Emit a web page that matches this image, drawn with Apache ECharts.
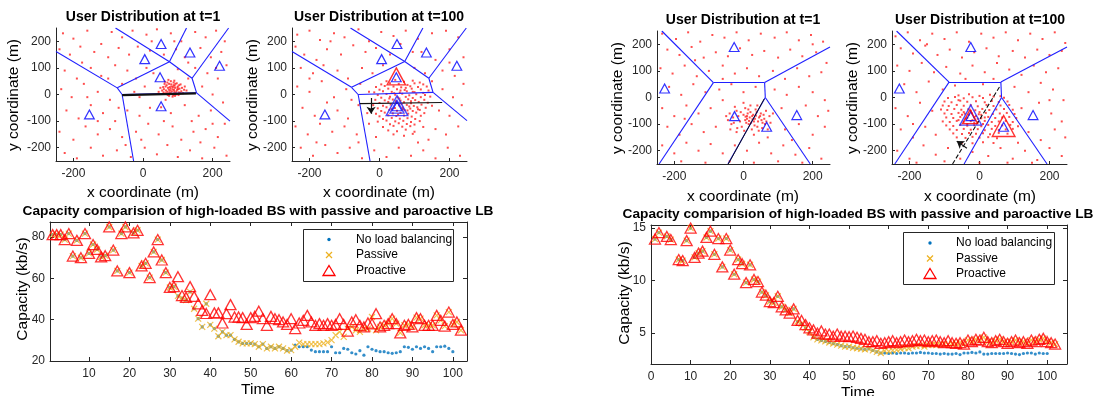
<!DOCTYPE html>
<html><head><meta charset="utf-8">
<script src="https://cdn.jsdelivr.net/npm/echarts@6/dist/echarts.min.js"></script>
<style>html,body{margin:0;padding:0;background:#fff}#c{width:1095px;height:396px}</style>
</head><body><div id="c"></div>
<script>
// ---------------- DATA ----------------
// Capacity charts (time steps 1..102)
const proactiveLeft = [81.2,81.2,81.2,78.8,81.7,70.8,78.4,70.0,81.7,72.1,
76.4,74.0,70.4,71.0,84.9,73.7,63.6,81.7,84.9,62.8,
82.0,83.3,66.0,67.3,60.4,72.8,78.8,68.9,62.8,55.6,
56.0,60.8,51.7,50.8,56.0,51.3,47.7,44.5,43.0,52.1,
43.3,43.3,38.4,42.9,47.3,41.3,41.3,41.0,37.7,41.0,
41.6,44.1,40.5,37.3,41.6,40.5,40.0,38.9,37.7,40.5,
35.7,38.4,39.7,42.1,38.9,37.3,38.1,37.3,38.1,37.3,
37.7,40.5,37.7,34.5,38.9,40.0,37.3,36.5,38.4,38.0,
42.9,36.5,37.3,38.1,40.5,38.1,33.6,37.3,37.7,36.5,
41.0,40.5,37.3,37.3,37.3,42.1,39.7,36.9,43.7,37.7,
38.9,34.9];
const passiveLeft = [81.2,81.2,81.2,78.8,81.7,70.8,78.4,70.0,81.7,72.1,
76.4,74.0,70.4,71.0,84.9,73.7,63.6,81.7,84.9,62.8,
82.0,83.3,66.0,67.3,60.4,72.8,78.8,68.9,62.8,55.6,
56.0,51.5,50.5,49.5,53.5,45.3,40.5,36.5,47.7,37.5,
35.7,32.0,34.1,32.5,32.5,30.5,29.3,28.5,28.5,28.5,
28.2,26.9,28.2,26.1,26.9,26.1,26.9,26.1,25.0,25.3,
26.9,28.9,28.2,28.2,28.2,28.2,28.2,28.5,29.0,30.1,
32.5,34.1,31.7,35.7,36.5,34.9,34.1,35.7,35.7,41.3,
34.9,36.5,37.3,38.1,40.5,38.1,33.6,37.3,37.7,36.5,
41.0,40.5,37.3,37.3,37.3,42.1,39.7,36.9,43.7,37.7,
38.9,34.9];
const noLbLeft = [81.2,81.2,81.2,78.8,81.7,70.8,78.4,70.0,81.7,72.1,
76.4,74.0,70.4,71.0,84.9,73.7,63.6,81.7,84.9,62.8,
82.0,83.3,66.0,67.3,60.4,72.8,78.8,68.9,62.8,55.6,
56.0,51.5,50.5,49.5,53.5,45.3,40.5,36.5,47.7,37.5,
35.7,32.0,34.1,32.5,32.5,30.5,29.3,28.5,28.5,28.5,
28.2,26.9,28.2,26.1,26.9,26.1,26.9,26.1,25.0,25.3,
27.7,26.9,26.9,26.9,25.3,24.5,24.5,24.5,24.5,26.9,
24.0,24.0,26.1,25.7,24.0,23.4,25.0,22.8,26.9,25.7,
25.0,24.5,24.5,24.0,23.7,24.0,24.5,26.9,26.6,25.7,
26.9,26.1,26.9,26.1,24.5,26.9,26.9,27.2,26.1,24.5,
null,null];

const proactiveRight = [13.95,14.57,15.3,14.2,13.9,15.4,12.0,11.9,13.8,15.0,
12.2,12.6,12.8,14.1,14.7,12.5,14.0,11.3,14.0,12.9,
10.6,12.0,11.6,9.8,11.5,10.1,9.9,8.9,8.6,8.0,
7.9,8.5,7.5,7.2,6.9,7.3,6.2,6.2,5.8,5.5,
5.3,5.0,5.2,4.9,4.9,4.7,4.9,4.7,4.7,4.65,
4.71,4.59,4.49,4.40,4.17,4.17,4.27,4.02,4.08,4.17,
4.27,4.08,4.17,4.33,4.17,4.27,4.40,4.27,4.33,4.17,
4.27,4.33,4.17,4.08,4.27,4.08,4.02,4.08,3.95,4.33,
4.17,4.40,4.33,4.59,4.17,4.08,4.27,4.40,4.17,4.02,
4.17,4.33,4.08,4.17,4.02,4.33,4.17,4.40,4.49,4.17,
4.08,3.95];
const passiveRight = [13.95,14.57,15.3,14.2,13.9,15.4,12.0,11.9,13.8,15.0,
12.2,12.6,12.8,14.1,14.7,12.5,14.0,11.3,14.0,12.9,
10.6,12.0,11.6,9.8,11.5,10.1,9.9,8.9,8.6,8.0,
7.9,8.5,7.5,7.2,6.9,7.3,6.1,5.9,5.5,5.1,
4.6,4.4,4.3,4.2,4.1,4.0,3.9,3.8,3.7,3.7,
3.6,3.55,3.5,3.45,3.5,3.35,3.2,3.1,3.3,3.25,
3.35,3.4,3.5,3.6,3.55,3.7,3.75,3.8,3.7,3.85,
3.9,3.85,3.9,3.95,3.9,4.0,4.0,4.08,3.95,4.33,
4.17,4.40,4.33,4.59,4.17,4.08,4.27,4.40,4.17,4.02,
4.17,4.33,4.08,4.17,4.02,4.33,4.17,4.40,4.49,4.17,
4.08,3.95];
const noLbRight = [13.95,14.57,15.3,14.2,13.9,15.4,12.0,11.9,13.8,15.0,
12.2,12.6,12.8,14.1,14.7,12.5,14.0,11.3,14.0,12.9,
10.6,12.0,11.6,9.8,11.5,10.1,9.9,8.9,8.6,8.0,
7.9,8.5,7.5,7.2,6.9,7.3,6.1,5.9,5.5,5.1,
4.6,4.4,4.3,4.2,4.1,4.0,3.9,3.8,3.7,3.7,
3.6,3.55,3.5,3.45,3.5,3.35,3.2,3.1,3.1,3.05,
3.1,3.05,3.1,3.1,3.05,3.1,3.1,3.15,3.1,3.1,
3.05,3.05,3.0,3.05,3.0,3.0,3.05,2.95,3.1,3.1,
3.15,3.1,3.2,3.0,3.0,3.05,3.05,3.05,3.05,3.1,
3.05,3.0,2.95,3.05,3.1,3.1,3.0,3.1,3.05,3.05,
null,null];

const capTicksLeftX = [10,20,30,40,50,60,70,80,90,100];
const capTicksLeftY = [20,40,60,80];
const capTicksRightX = [0,10,20,30,40,50,60,70,80,90,100];
const capTicksRightY = [5,10,15];
const mapTicksX = [-200,0,200];
const mapTicksY = [-200,-100,0,100,200];
const legendNames = ['No load balancing','Passive','Proactive'];

// Maps: users (m), base stations (m), Voronoi edges [x1,y1,x2,y2]
const usersA = [[-230,230],[-200,210],[-160,240],[-120,190],[-90,235],[-60,215],[-30,240],[10,225],[40,245],[80,230],[110,200],[150,235],[180,215],[210,240],[235,200],
[-240,170],[-210,150],[-175,120],[-140,160],[-100,140],[-70,175],[-40,150],[-15,180],[20,165],[60,150],[95,170],[130,120],[165,175],[195,140],[225,160],
[-225,90],[-190,60],[-150,100],[-120,70],[-80,110],[-45,90],[-20,60],[10,100],[30,80],[100,95],[150,100],[185,80],[215,60],[240,110],
[-235,20],[-205,-10],[-170,40],[-130,10],[-95,-20],[-60,40],[-25,10],[5,30],[170,30],[200,0],[230,-30],
[-220,-60],[-185,-90],[-150,-40],[-115,-70],[-80,-100],[-45,-60],[-10,-80],[20,-50],[80,-70],[120,-40],[160,-80],[195,-60],[235,-110],
[-240,-140],[-200,-170],[-165,-120],[-130,-150],[-95,-130],[-60,-160],[-20,-140],[15,-110],[45,-150],[85,-120],[110,-170],[145,-140],[180,-130],[215,-160],
[-225,-220],[-190,-240],[-150,-200],[-115,-230],[-75,-210],[-35,-235],[5,-200],[40,-225],[70,-190],[100,-235],[135,-210],[170,-240],[205,-200],[240,-230],
[-180,180],[-50,-190],[60,-100],[130,60],[-130,-100],[90,200],[-10,-10],[140,-100],[-70,-50],[200,-110],[-160,-10],[25,200],[120,140],[-100,60],[65,-20],[165,-180],[-5,-170],[210,100],
[60,20],[65,30],[70,10],[72,25],[75,40],[78,15],[80,5],[82,30],[85,20],[88,35],[90,10],[92,25],[95,0],[98,18],[100,30],[103,8],[105,22],[108,38],[110,12],[70,45],[75,-5],[80,50],[85,-8],[88,45],[65,5],[62,40],[58,28],[55,15],[68,35],[77,28],[83,12],[86,28],[93,40],[96,12],[101,20],[74,18],[79,22],[81,38],[84,2],[89,17],[91,33],[94,5],[99,26],[104,35],[112,25],[115,5],[118,18],[120,30],[66,15],[71,-2],[76,8],[87,-3],[92,-5],[97,42],[102,-2],[107,5],[59,8],[63,48],[73,55],[90,52],[50,25],[45,10],[125,15],[52,-48]];
const usersB = [[-235,225],[-200,240],[-170,205],[-130,230],[-100,215],[-60,245],[-30,200],[5,235],[40,220],[75,240],[110,210],[150,230],[190,240],[225,215],
[-240,180],[-215,150],[-180,130],[-150,170],[-110,150],[-75,185],[-40,160],[-10,175],[30,150],[95,160],[160,130],[200,170],[240,140],
[-225,100],[-190,80],[-160,110],[-120,90],[-90,60],[-50,100],[-20,80],[10,110],[100,100],[130,80],[180,90],[215,70],
[-235,30],[-200,10],[-165,50],[-130,-10],[-95,20],[-55,40],[-30,10],[180,20],[210,-10],[240,40],
[-220,-50],[-185,-80],[-150,-30],[-120,-60],[-90,-90],[-60,-40],[-35,-70],[170,-60],[200,-80],[235,-40],
[-240,-120],[-205,-150],[-170,-110],[-135,-140],[-100,-120],[-65,-150],[-30,-110],[160,-130],[190,-150],[225,-120],
[-225,-200],[-190,-230],[-155,-190],[-120,-220],[-85,-200],[-50,-240],[-15,-210],[20,-235],[55,-200],[90,-230],[125,-210],[160,-240],[195,-200],[230,-230],
[-180,-180],[-60,-180],[140,-170],[-140,200],[60,190],[200,120],[-80,-20],[150,50],[-10,-160],[110,-180],[-200,60],[120,160],
[20,50],[45,55],[70,48],[95,52],[115,45],[5,38],[30,42],[55,40],[80,36],[100,42],[125,38],
[-10,28],[15,32],[40,30],[62,27],[88,31],[110,28],[135,30],[0,18],[25,22],[50,20],[72,17],[92,22],[118,19],[140,15],
[-15,8],[10,12],[35,10],[58,7],[78,12],[100,9],[125,6],[-5,-2],[20,2],[45,-1],[65,3],[85,-3],[105,1],[130,-2],
[5,-12],[30,-8],[52,-11],[75,-9],[95,-13],[118,-10],[145,-8],[-12,-20],[15,-22],[38,-19],[60,-23],[82,-18],[102,-21],[128,-20],
[0,-32],[25,-28],[48,-31],[70,-29],[90,-33],[112,-28],[138,-31],[-18,-40],[10,-42],[32,-38],[56,-41],[78,-39],[98,-43],[120,-38],[150,-42],
[-5,-52],[20,-48],[44,-51],[66,-49],[88,-53],[108,-48],[132,-50],[5,-62],[28,-58],[50,-61],[72,-59],[95,-62],[115,-58],
[-10,-72],[15,-68],[38,-71],[60,-69],[82,-72],[105,-68],[128,-70],[0,-82],[25,-78],[48,-81],[70,-79],[92,-83],[118,-80],
[10,-92],[35,-88],[58,-91],[80,-89],[102,-92],[-5,-102],[20,-98],[45,-101],[68,-99],[90,-103],[115,-100],
[30,-112],[55,-108],[78,-111],[100,-113],[10,-122],[40,-118],[65,-121],[88,-119],[125,-122],
[25,-135],[50,-138],[75,-132],[100,-140],[40,-150],[70,-155],[95,-148],
[42,5],[57,-15],[63,-35],[47,-25],[85,-45],[35,-55],[60,15],[75,25],[90,-25],[67,-55],[53,-75],[80,-60],[28,-15],[110,-55],[95,10]];
const usersC = [[-235,240],[-195,220],[-160,245],[-125,210],[-90,235],[-55,225],[-20,245],[15,215],[50,240],[90,225],[125,245],[160,215],[195,235],[230,210],
[-220,180],[-185,160],[-150,190],[-115,150],[-80,170],[-45,155],[-10,185],[25,160],[60,175],[100,150],[135,180],[170,155],[210,170],[240,130],
[-240,110],[-205,90],[-170,120],[-135,80],[-100,100],[-60,120],[-25,90],[10,110],[45,80],[85,100],[120,70],[155,110],[190,80],[225,95],
[-215,40],[-180,10],[-145,50],[-110,20],[-70,30],[-35,50],[0,20],[35,40],[90,30],[125,10],[160,40],[200,20],[235,-10],
[-235,-40],[-200,-70],[-165,-30],[-130,-60],[-95,-40],[-60,-10],[110,-40],[180,-30],[215,-70],[245,-50],
[-220,-110],[-185,-140],[-150,-100],[-115,-130],[-80,-110],[120,-120],[160,-100],[200,-140],[235,-110],
[-235,-180],[-200,-210],[-165,-170],[-130,-200],[-95,-175],[-60,-210],[-25,-180],[10,-200],[45,-170],[80,-210],[115,-180],[150,-215],[190,-190],[225,-230],
[-180,-240],[-110,-245],[-40,-240],[30,-245],[100,-240],[170,-245],[-140,140],[140,-160],[200,200],[-60,70],[70,-150],[-170,-80],
[-40,-60],[-30,-75],[-20,-50],[-10,-90],[0,-65],[5,-40],[10,-80],[15,-100],[20,-55],[25,-70],[30,-90],[35,-45],[40,-110],[45,-75],[50,-60],[55,-95],[60,-80],[65,-50],[70,-120],[75,-70],
[-35,-100],[-25,-35],[-15,-70],[-5,-110],[5,-85],[12,-60],[18,-75],[22,-95],[28,-65],[33,-80],[38,-55],[42,-90],[48,-70],[52,-85],[58,-65],[62,-100],
[-45,-85],[-38,-120],[-28,-95],[-18,-115],[-8,-55],[2,-125],[8,-95],[14,-45],[24,-120],[32,-105],[44,-125],[54,-115],[66,-90],[78,-95],[85,-60],
[-50,-70],[20,-30],[0,-20],[40,-30],[-20,-130],[30,-140],[10,-70],[26,-82],[36,-68],[16,-88],[6,-72]];
const usersD = [[-240,230],[-205,245],[-170,215],[-135,240],[-100,220],[-65,245],[-30,210],[5,240],[40,225],[75,245],[110,215],[145,240],[180,220],[215,245],[245,205],
[-225,185],[-190,165],[-155,195],[-120,160],[-85,180],[-50,150],[-15,170],[20,185],[55,155],[95,175],[130,150],[165,180],[200,160],[235,175],
[-235,120],[-200,100],[-165,130],[-130,95],[-95,115],[-55,90],[-20,120],[15,95],[50,130],[85,105],[120,85],[155,120],[190,95],[225,110],
[-215,50],[-180,20],[-145,60],[-105,30],[-70,45],[-40,70],[10,50],[40,70],[100,40],[140,20],[175,55],[210,30],[240,-10],
[-240,-40],[-205,-70],[-170,-20],[-135,-50],[120,-40],[170,-20],[205,-60],[235,-90],
[-225,-120],[-190,-150],[-155,-110],[-125,-140],[140,-130],[175,-160],[215,-120],[245,-150],
[-235,-200],[-200,-230],[-160,-180],[-125,-215],[-90,-190],[-55,-230],[-20,-205],[25,-220],[60,-190],[95,-230],[130,-200],[165,-235],[200,-190],[235,-220],
[-180,-245],[-100,-240],[0,-245],[80,-245],[150,-245],[-150,200],[200,-10],[-60,-10],[110,-170],[-190,-100],
[-60,8],[-30,12],[0,6],[30,10],[60,5],[-90,-2],[-70,2],[-45,-3],[-20,1],[10,-2],[40,3],[70,-1],
[-100,-15],[-80,-18],[-55,-12],[-35,-16],[-10,-14],[15,-18],[35,-13],[55,-17],[80,-15],
[-105,-30],[-88,-32],[-65,-28],[-45,-31],[-25,-29],[-5,-33],[20,-28],[40,-32],[60,-30],[85,-28],
[-110,-45],[-92,-47],[-72,-43],[-52,-46],[-32,-44],[-12,-48],[8,-43],[28,-47],[48,-45],[70,-43],[95,-46],
[-100,-60],[-80,-62],[-60,-58],[-42,-61],[-22,-59],[-2,-63],[18,-58],[38,-62],[58,-60],[78,-58],[100,-62],
[-95,-75],[-75,-77],[-55,-73],[-35,-76],[-15,-74],[5,-78],[25,-73],[45,-77],[65,-75],[85,-73],[105,-77],
[-105,-90],[-85,-92],[-65,-88],[-45,-91],[-25,-89],[-5,-93],[15,-88],[35,-92],[55,-90],[75,-88],[95,-92],
[-95,-105],[-75,-107],[-55,-103],[-35,-106],[-15,-104],[5,-108],[25,-103],[45,-107],[65,-105],[88,-103],[110,-108],
[-85,-120],[-65,-122],[-45,-118],[-25,-121],[-5,-119],[15,-123],[35,-118],[55,-122],[75,-120],[95,-118],
[-75,-135],[-50,-137],[-30,-133],[-10,-136],[10,-134],[30,-138],[55,-133],[80,-136],
[-65,-150],[-40,-152],[-20,-148],[0,-151],[25,-149],[50,-153],[-50,-170],[-20,-172],[10,-168],[40,-171],
[-30,-65],[-20,-85],[-10,-70],[0,-55],[-40,-80],[-25,-50],[-15,-95],[-35,-100],[-50,-65],[5,-65],[10,-100],[-5,-80],[15,-75],[-45,-55],[-60,-85]];

const stationsA = [[52,190],[5,133],[135,158],[220,108],[49,65],[52,-44],[-154,-75]];
const stationsB = [[50,190],[6,133],[134,158],[221,108],[48,65],[50,-44],[-156,-75]];
const stationsC = [[-27,190],[-228,34],[-26,-70],[67,-110],[154,-66]];
const stationsD = [[-25,190],[-229,34],[-25,-70],[69,-110],[153,-66]];
const bigRedB = [[48,68]];
const bigBlueB = [[50,-42]];
const midBlueB = [[50,-46]];
const bigBlueD = [[-25,-66]];
const midRedD = [[-27,-72]];
const bigRedD = [[69,-107]];

const edgesA = [[-250,162,-74,25],[-74,25,-60,0],[-60,0,-27,-250],[-74,25,76,123],[76,123,-79,250],[76,123,125,250],[76,123,141,61],[141,61,246,250],[141,61,154,6],[154,6,250,-100],[-60,0,154,6]];
const edgesB = [[-250,162,-80,27],[-80,27,-61,0],[-61,0,-27,-250],[-80,27,72,124],[72,124,-83,250],[72,124,124,250],[72,124,141,61],[141,61,248,250],[141,61,153,8],[153,8,250,-98],[-61,0,153,8]];
const edgesC = [[-236,250,-87,56],[-87,56,61,56],[61,56,250,190],[61,56,63,0],[-87,56,-244,-250],[63,0,193,-250],[63,0,-45,-250]];
const edgesD = [[-237,250,-87,58],[-87,58,61,58],[61,58,250,190],[61,58,63,0],[-87,58,-242,-250],[63,0,193,-250],[63,0,-44,-250]];
const pathA = [[-60,-2,152,4]];
const pathB = [[-57,-34,179,-30]];
const pathC = [[-44,-250,60,-5]];
const pathD = [[-77,-250,59,44]];
const arrowB = [[-24,-13,-24,-72]];
const arrowD = [[-36,-191,-65,-164]];

// ---------------- CHART ----------------
const FONT = '"Liberation Sans", Arial, Helvetica, sans-serif';
const AX = '#262626';
const BLUE = '#1f1fff';
const C_NOLB = '#0072BD', C_PAS = '#EDB120', C_PRO = '#FF0000';
const XSYM = 'path://M0,0L10,10M10,0L0,10';
const TRI = 'path://M5,0L10,8.7L0,8.7Z';

const grids = [
  {left:56, top:28, width:174, height:133},
  {left:292, top:28, width:175, height:133},
  {left:657, top:31, width:173, height:133},
  {left:892, top:31, width:175, height:133},
  {left:50, top:222, width:417, height:139},
  {left:651, top:225, width:416, height:139}
];

function mapX(i){return {type:'value',gridIndex:i,min:-250,max:250,
  axisLine:{show:true,onZero:false,lineStyle:{color:AX,width:1}},
  axisTick:{show:true,inside:true,length:3,customValues:mapTicksX,lineStyle:{color:AX}},
  axisLabel:{customValues:mapTicksX,color:AX,fontSize:12,fontFamily:FONT,margin:7},
  splitLine:{show:false}};}
function mapY(i){return {type:'value',gridIndex:i,min:-250,max:250,
  axisLine:{show:true,onZero:false,lineStyle:{color:AX,width:1}},
  axisTick:{show:true,inside:true,length:3,customValues:mapTicksY,lineStyle:{color:AX}},
  axisLabel:{customValues:mapTicksY,color:AX,fontSize:12,fontFamily:FONT,margin:5},
  splitLine:{show:false}};}
function capAxis(dim,i,pos,min,max,ticks,labels){
  return {type:'value',gridIndex:i,position:pos,min:min,max:max,
    axisLine:{show:true,onZero:false,lineStyle:{color:AX,width:1}},
    axisTick:{show:true,inside:true,length:4,customValues:ticks,lineStyle:{color:AX}},
    axisLabel:{show:labels,customValues:ticks,color:AX,fontSize:12,fontFamily:FONT,margin:dim==='x'?7:5},
    splitLine:{show:false}};
}

const xAxes = [mapX(0),mapX(1),mapX(2),mapX(3),
  capAxis('x',4,'bottom',0.35,103.5,capTicksLeftX,true),
  capAxis('x',4,'top',0.35,103.5,capTicksLeftX,false),
  capAxis('x',5,'bottom',0,105,capTicksRightX,true),
  capAxis('x',5,'top',0,105,capTicksRightX,false)];
const yAxes = [mapY(0),mapY(1),mapY(2),mapY(3),
  capAxis('y',4,'left',20,87.3,capTicksLeftY,true),
  capAxis('y',4,'right',20,87.3,capTicksLeftY,false),
  capAxis('y',5,'left',2.05,15.29,capTicksRightY,true),
  capAxis('y',5,'right',2.05,15.29,capTicksRightY,false)];

const series = [];
function segs(arr){return arr.map(s=>({coords:[[s[0],s[1]],[s[2],s[3]]]}));}
function addLines(ax,arr,color,width,type,arrow,z){
  series.push({type:'lines',coordinateSystem:'cartesian2d',xAxisIndex:ax,yAxisIndex:ax,
    data:segs(arr),polyline:false,silent:true,z:z||2,
    symbol:arrow?['none','arrow']:['none','none'],symbolSize:arrow?7:0,
    lineStyle:{color:color,width:width,type:type||'solid',opacity:1,curveness:0}});
}
function addTri(ax,arr,size,color,width){
  series.push({type:'scatter',xAxisIndex:ax,yAxisIndex:ax,data:arr,symbol:'triangle',symbolSize:[size*1.08,size],
    silent:true,z:4,itemStyle:{color:'rgba(0,0,0,0)',borderColor:color,borderWidth:width}});
}
function addUsers(ax,arr){
  series.push({type:'scatter',xAxisIndex:ax,yAxisIndex:ax,data:arr,symbol:'rect',symbolSize:2,
    silent:true,z:1,itemStyle:{color:'#ff2020'}});
}
// Map A
addUsers(0,usersA); addLines(0,edgesA,BLUE,1.1); addLines(0,pathA,'#111',2.2,'solid',false,3); addTri(0,stationsA,9,'#0000ff',1.2);
// Map B
addUsers(1,usersB); addLines(1,edgesB,BLUE,1.1); addLines(1,pathB,'#111',1.2,'solid',false,3); addLines(1,arrowB,'#111',1.2,'solid',true,3);
addTri(1,stationsB,9,'#0000ff',1.2); addTri(1,bigRedB,17,'#ff0000',1.4); addTri(1,bigBlueB,20,'#2020ff',1.4); addTri(1,midBlueB,13,'#2020ff',1.3);
// Map C
addUsers(2,usersC); addLines(2,edgesC,BLUE,1.1); addLines(2,pathC,'#111',1,'solid',false,3); addTri(2,stationsC,9,'#0000ff',1.2);
// Map D
addUsers(3,usersD); addLines(3,edgesD,BLUE,1.1); addLines(3,pathD,'#111',1.1,'dashed',false,3); addLines(3,arrowD,'#111',1.2,'solid',true,3);
addTri(3,stationsD,9,'#0000ff',1.2); addTri(3,bigBlueD,20,'#2020ff',1.4); addTri(3,midRedD,14,'#ff0000',1.3); addTri(3,bigRedD,21,'#ff0000',1.4);

// Capacity series
function toPts(vals){const out=[];for(let i=0;i<vals.length;i++){if(vals[i]!==null)out.push([i+1,vals[i]]);}return out;}
function addCap(ax,noLb,pas,pro){
  series.push({name:legendNames[0],type:'scatter',xAxisIndex:ax,yAxisIndex:ax,data:toPts(noLb),
    symbol:'circle',symbolSize:3.2,z:2,itemStyle:{color:C_NOLB}});
  series.push({name:legendNames[1],type:'scatter',xAxisIndex:ax,yAxisIndex:ax,data:toPts(pas),
    symbol:XSYM,symbolSize:6,z:3,itemStyle:{color:C_PAS,borderColor:C_PAS,borderWidth:1.2}});
  series.push({name:legendNames[2],type:'scatter',xAxisIndex:ax,yAxisIndex:ax,data:toPts(pro),
    symbol:TRI,symbolSize:[11,10],z:4,itemStyle:{color:'rgba(0,0,0,0)',borderColor:C_PRO,borderWidth:1.3}});
}
addCap(4,noLbLeft,passiveLeft,proactiveLeft);
addCap(6,noLbRight,passiveRight,proactiveRight);

function txt(x,y,t,size,bold,rot,align){
  return {type:'text',x:x,y:y,rotation:rot?Math.PI/2:0,z:10,silent:true,
    style:{text:t,fill:'#000',font:(bold?'bold ':'')+size+'px '+FONT,
      textAlign:align||'center',textVerticalAlign:'middle',align:align||'center',verticalAlign:'middle'}};
}
// legend box: icons + labels
function legendBox(bx,by,bw,bh,ix,tx,rows){
  const els=[{type:'rect',shape:{x:bx,y:by,width:bw,height:bh},style:{fill:'#fff',stroke:AX,lineWidth:1},z:5,silent:true}];
  els.push({type:'circle',shape:{cx:ix,cy:rows[0],r:1.7},style:{fill:C_NOLB},z:6,silent:true});
  els.push({type:'polyline',shape:{points:[[ix-3,rows[1]-3],[ix+3,rows[1]+3]]},style:{stroke:C_PAS,lineWidth:1.2},z:6,silent:true});
  els.push({type:'polyline',shape:{points:[[ix+3,rows[1]-3],[ix-3,rows[1]+3]]},style:{stroke:C_PAS,lineWidth:1.2},z:6,silent:true});
  els.push({type:'polygon',shape:{points:[[ix,rows[2]-5.5],[ix+6,rows[2]+4.5],[ix-6,rows[2]+4.5]]},style:{fill:'none',stroke:C_PRO,lineWidth:1.3},z:6,silent:true});
  for(let k=0;k<3;k++){const t=txt(tx,rows[k],legendNames[k],12,false,false,'left');t.z=7;els.push(t);}
  return els;
}
const graphics=[].concat(
  legendBox(303.5,229.5,150,52,329,356,[239.5,255,271]),
  legendBox(903.5,232.5,151,52,930,956,[243,258.5,274]),
  [
  txt(143,17,'User Distribution at t=1',14,true),
  txt(379,17,'User Distribution at t=100',14,true),
  txt(743,20,'User Distribution at t=1',14,true),
  txt(980,20,'User Distribution at t=100',14,true),
  txt(143,193,'x coordinate (m)',15.5,false),
  txt(379,193,'x coordinate (m)',15.5,false),
  txt(743,197,'x coordinate (m)',15.5,false),
  txt(980,197,'x coordinate (m)',15.5,false),
  txt(14,95,'y coordinate (m)',15.5,false,true),
  txt(253,95,'y coordinate (m)',15.5,false,true),
  txt(618,98,'y coordinate (m)',15.5,false,true),
  txt(853,98,'y coordinate (m)',15.5,false,true),
  txt(258,211,'Capacity comparision of high-loaded BS with passive and paroactive LB',13.7,true),
  txt(858,214,'Capacity comparision of high-loaded BS with passive and paroactive LB',13.7,true),
  txt(23,289,'Capacity (kb/s)',15.5,false,true),
  txt(625,293,'Capacity (kb/s)',15.5,false,true),
  txt(258,390,'Time',15.5,false),
  txt(858,393,'Time',15.5,false)
  ]);

const chart = echarts.init(document.getElementById('c'), null, {renderer:'canvas'});
chart.setOption({
  animation:false,
  backgroundColor:'#fff',
  grid:grids, xAxis:xAxes, yAxis:yAxes,
  graphic:graphics,
  series:series
});
</script></body></html>
